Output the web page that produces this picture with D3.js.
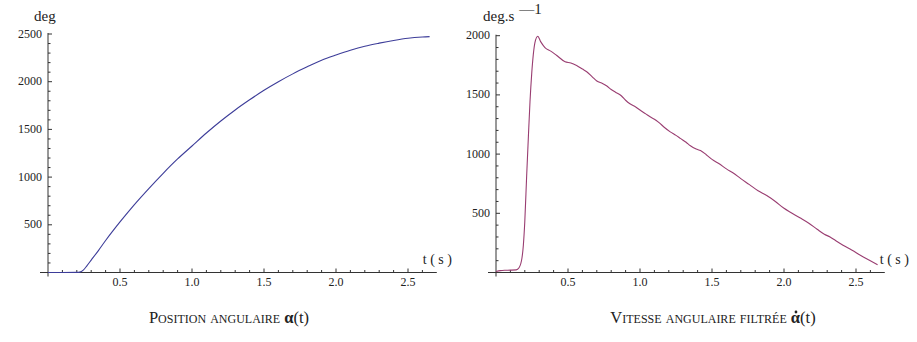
<!DOCTYPE html>
<html>
<head>
<meta charset="utf-8">
<script src="https://cdn.jsdelivr.net/npm/d3@7"></script>
<style>
	body { margin: 0; background: #fff; }
	.axis line { stroke: #333; }
	.caption { font-size: 16.5px; font-variant: small-caps; }
</style>
</head>
<body>
<div id="graph"></div>
<script>
// position (deg) vs t (s)
let positionTime   = [0, 0.1, 0.2, 0.22, 0.245, 0.27, 0.3, 0.35, 0.4, 0.5, 0.6, 0.7, 0.8, 0.9, 1.0, 1.1, 1.2, 1.3, 1.4, 1.5, 1.6, 1.7, 1.8, 1.9, 2.0, 2.1, 2.2, 2.3, 2.4, 2.5, 2.6, 2.65];
let positionValues = [0, 0, 1, 4, 25, 70, 130, 230, 335, 530, 712, 880, 1040, 1190, 1326, 1462, 1588, 1704, 1810, 1910, 2000, 2082, 2156, 2225, 2280, 2330, 2372, 2404, 2432, 2455, 2468, 2472];

// filtered angular speed (deg/s) vs t (s)
let velocityTime   = [0, 0.03, 0.06, 0.1, 0.14, 0.16, 0.18, 0.19, 0.2, 0.213, 0.225, 0.236, 0.248, 0.259, 0.27, 0.29, 0.31, 0.34, 0.38, 0.42, 0.48, 0.52, 0.56, 0.6, 0.63, 0.67, 0.7, 0.74, 0.77, 0.8, 0.83, 0.87, 0.9, 0.93, 0.97, 1.0, 1.04, 1.07, 1.1, 1.13, 1.17, 1.21, 1.25, 1.28, 1.32, 1.35, 1.39, 1.42, 1.46, 1.5, 1.55, 1.6, 1.65, 1.7, 1.76, 1.82, 1.88, 1.94, 2.0, 2.05, 2.11, 2.17, 2.23, 2.28, 2.32, 2.36, 2.41, 2.47, 2.53, 2.59, 2.65];
let velocityValues = [8, 16, 19, 20, 22, 40, 120, 230, 430, 820, 1150, 1440, 1680, 1840, 1940, 1995, 1950, 1900, 1870, 1835, 1780, 1770, 1748, 1718, 1696, 1650, 1618, 1596, 1575, 1545, 1523, 1493, 1455, 1425, 1398, 1372, 1340, 1315, 1295, 1268, 1225, 1188, 1158, 1133, 1100, 1070, 1043, 1030, 995, 955, 918, 875, 838, 793, 742, 690, 650, 600, 542, 505, 462, 418, 365, 323, 300, 268, 230, 190, 146, 105, 65];

let xTickLabels        = [0.5, 1.0, 1.5, 2.0, 2.5];
let positionTickLabels = [500, 1000, 1500, 2000, 2500];
let velocityTickLabels = [500, 1000, 1500, 2000];

let svg = d3.select('#graph')
	.append('svg')
		.attr('width', 917)
		.attr('height', 342)
		.attr('font-family', "'Liberation Serif', 'DejaVu Serif', serif")
		.attr('fill', '#222');

function drawPanel(opts) {
	let x = d3.scaleLinear().domain([0, 2.7]).range([opts.left, opts.left + 2.7 * 144]);
	let y = d3.scaleLinear().domain([0, opts.yMax]).range([272.5, opts.top]);

	let g = svg.append('g').attr('class', 'axis');

	// axis lines, crossing at origin
	g.append('line')
		.attr('x1', opts.left - 8).attr('x2', x(2.7))
		.attr('y1', y(0)).attr('y2', y(0));
	g.append('line')
		.attr('x1', opts.left).attr('x2', opts.left)
		.attr('y1', y(0) + 4).attr('y2', y(opts.yMax) - 1);

	// x ticks (every 0.1, bigger on 0.5)
	let xt = d3.range(1, 27).map((i) => i / 10);
	g.selectAll('.xt').data(xt).enter().append('line')
		.attr('x1', (d) => x(d)).attr('x2', (d) => x(d))
		.attr('y1', y(0))
		.attr('y2', (d) => y(0) - (Math.abs(d * 2 - Math.round(d * 2)) < 1e-6 ? 4 : 2.5));

	// y ticks (every 100, bigger on 500)
	let yt = d3.range(100, opts.yMax + 1, 100);
	g.selectAll('.yt').data(yt).enter().append('line')
		.attr('y1', (d) => y(d)).attr('y2', (d) => y(d))
		.attr('x1', opts.left)
		.attr('x2', (d) => opts.left + (d % 500 === 0 ? 4 : 2.5));

	svg.selectAll(null).data(xTickLabels).enter().append('text')
		.attr('x', (d) => x(d))
		.attr('y', 286)
		.attr('text-anchor', 'middle')
		.style('font-size', '12px')
		.text((d) => d.toFixed(1));

	svg.selectAll(null).data(opts.yLabels).enter().append('text')
		.attr('x', opts.left - 6)
		.attr('y', (d) => y(d) + 3.5)
		.attr('text-anchor', 'end')
		.style('font-size', '12px')
		.text((d) => d);

	let line = d3.line()
		.x((d, i) => x(opts.t[i]))
		.y((d) => y(d))
		.curve(d3.curveMonotoneX);

	svg.append('path')
		.attr('d', line(opts.v))
		.attr('fill', 'none')
		.attr('stroke', opts.color)
		.attr('stroke-width', 1.1);

	svg.append('text')
		.attr('x', x(2.7) + opts.unitShift)
		.attr('y', 264)
		.style('font-size', '14px')
		.attr('xml:space', 'preserve')
		.text('t ( s )');
}

drawPanel({ left: 48,  top: 34,   yMax: 2500, yLabels: positionTickLabels, t: positionTime, v: positionValues, color: '#3d3d99', unitShift: -14 });
drawPanel({ left: 496, top: 35.7, yMax: 2000, yLabels: velocityTickLabels, t: velocityTime, v: velocityValues, color: '#993d71', unitShift: -5 });

// y units
svg.append('text')
	.attr('x', 34).attr('y', 21)
	.style('font-size', '15px')
	.text('deg');

let unit = svg.append('text')
	.attr('x', 483).attr('y', 21)
	.style('font-size', '15px');
unit.append('tspan').text('deg.s');
unit.append('tspan').attr('dx', 5).attr('dy', -7).style('font-size', '15px').text('—1');

// captions
let cap1 = svg.append('text')
	.attr('class', 'caption')
	.attr('x', 229).attr('y', 323)
	.attr('text-anchor', 'middle');
cap1.append('tspan').text('Position angulaire ');
cap1.append('tspan').style('font-weight', 'bold').style('font-variant', 'normal').text('α');
cap1.append('tspan').style('font-variant', 'normal').text('(t)');

let cap2Head = 'Vitesse angulaire filtrée ';
let cap2 = svg.append('text')
	.attr('class', 'caption')
	.attr('x', 713).attr('y', 323)
	.attr('text-anchor', 'middle');
cap2.append('tspan').text(cap2Head);
cap2.append('tspan').style('font-weight', 'bold').style('font-variant', 'normal').text('α');
cap2.append('tspan').style('font-variant', 'normal').text('(t)');

// dot over alpha
let alpha = cap2.node().getExtentOfChar(cap2Head.length);
svg.append('circle')
	.attr('cx', alpha.x + alpha.width / 2 + 0.5)
	.attr('cy', 323 - 11)
	.attr('r', 1.4)
	.attr('fill', '#222');
</script>
</body>
</html>
